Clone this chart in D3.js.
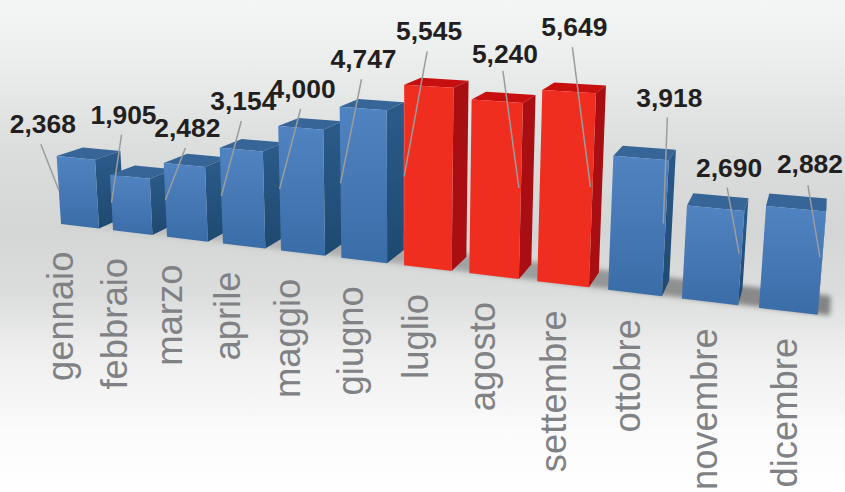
<!DOCTYPE html>
<html>
<head>
<meta charset="utf-8">
<script src="https://cdn.jsdelivr.net/npm/d3@7"></script>
<style>
  html, body { margin: 0; padding: 0; background: #fff; }
  svg { display: block; }
</style>
</head>
<body>
<svg id="chart" width="845" height="492"></svg>
<script>
// Monthly figures
const months = ["gennaio", "febbraio", "marzo", "aprile", "maggio", "giugno",
                "luglio", "agosto", "settembre", "ottobre", "novembre", "dicembre"];
const values = [2368, 1905, 2482, 3154, 4000, 4747, 5545, 5240, 5649, 3918, 2690, 2882];
const summerMonths = ["luglio", "agosto", "settembre"];

// Callout leaders: height fraction of the anchor on the bar, offset of the
// free end from that anchor, and the gap between free end and figure
const leaderLift = [0.5, 0.5, 0.5, 0.5, 0.5, 0.5, 0.5, 0.525, 0.525, 0.54, 0.55, 0.56];
const leaderDx = [-18, 10, 20, 20, 21, 21, 23, -16, -18, 4, -12, -12];
const leaderDy = [-46, -68, -52, -75, -80, -104, -125, -117, -140, -106, -66, -72];
const labelGap = [11, 11, 11, 11, 11, 11, 11, 8, 11, 10, 11, 12];

const width = 845, height = 492;

// Perspective camera described by its origin and three vanishing points
const origin = { x: 61, y: 224 };
const vanishX = { x: -2830, y: -123 };
const vanishY = { x: 400, y: 5500 };
const vanishZ = { x: 845, y: -100 };

// World scales, each returning a homogeneous weight along its axis
const xBand = d3.scaleBand().domain(months).range([0, 11.734]).paddingInner(0.266).paddingOuter(0);
const xWeight = d3.scaleLinear().domain([0, 1]).range([0, -0.01768]);
const yWeight = d3.scaleLinear().domain([0, 6000]).range([0, -0.03224]);
const zWeight = d3.scaleLinear().domain([0, 1]).range([0, 0.034]);

function project(x, value, z) {
  const a = xWeight(x), b = yWeight(value), c = zWeight(z);
  const w = 1 + a + b + c;
  return [
    (origin.x + a * vanishX.x + b * vanishY.x + c * vanishZ.x) / w,
    (origin.y + a * vanishX.y + b * vanishY.y + c * vanishZ.y) / w
  ];
}

const svg = d3.select("#chart");
const defs = svg.append("defs");

function verticalGradient(id, stops) {
  const g = defs.append("linearGradient").attr("id", id)
    .attr("x1", 0).attr("y1", 0).attr("x2", 0).attr("y2", 1);
  stops.forEach(s => g.append("stop").attr("offset", s[0]).attr("stop-color", s[1]));
}

verticalGradient("backdrop", [
  [0, "#f4f6f5"], [0.12, "#eceeed"], [0.3, "#dcdede"], [0.47, "#d4d6d6"],
  [0.6, "#dcdddd"], [0.72, "#eeefee"], [0.88, "#fbfbfb"], [1, "#ffffff"]
]);
verticalGradient("blueFront", [[0, "#5083c1"], [1, "#3a6da8"]]);
verticalGradient("blueSide", [[0, "#2c5b8b"], [1, "#1e4970"]]);
defs.append("filter").attr("id", "soft")
  .attr("x", "-30%").attr("y", "-30%").attr("width", "160%").attr("height", "160%")
  .append("feGaussianBlur").attr("stdDeviation", 2.5);

svg.append("rect").attr("width", width).attr("height", height).attr("fill", "url(#backdrop)");

const polygon = d3.line();
const isSummer = m => summerMonths.includes(m);

// Soft floor shadow behind the bars, deepening toward the near end
const lastIndex = months.length - 1;
svg.append("g").attr("filter", "url(#soft)")
  .selectAll("path").data(months).join("path")
  .attr("fill", "#6e6e6e").attr("fill-opacity", (m, i) => 0.15 + 0.06 * i)
  .attr("d", (m, i) => {
    const x0 = xBand(m);
    const x1 = x0 + xBand.bandwidth() + (i === lastIndex ? 0.15 : 0.266);
    return polygon([project(x0, 0, 0.05), project(x1, 0, 0.05), project(x1, 0, 1.2), project(x0, 0, 1.2)]) + "Z";
  });

// Bars, painted from the far left so nearer ones overlap the side faces
const bars = svg.append("g").selectAll("g").data(months).join("g");

bars.each(function (m, i) {
  const g = d3.select(this);
  const x0 = xBand(m), x1 = x0 + xBand.bandwidth(), v = values[i];
  const hot = isSummer(m);
  g.append("path")
    .attr("fill", hot ? "#c80f10" : "#386597")
    .attr("d", polygon([project(x0, v, 0), project(x1, v, 0), project(x1, v, 1), project(x0, v, 1)]) + "Z");
  g.append("path")
    .attr("fill", hot ? "#a90e12" : "url(#blueSide)")
    .attr("d", polygon([project(x1, v, 0), project(x1, v, 1), project(x1, 0, 1), project(x1, 0, 0)]) + "Z");
  g.append("path")
    .attr("fill", hot ? "#f02e20" : "url(#blueFront)")
    .attr("d", polygon([project(x0, v, 0), project(x1, v, 0), project(x1, 0, 0), project(x0, 0, 0)]) + "Z");
});

// Month names run upward beneath the bars
const labelX = d3.scaleLinear().domain([0, 11]).range([0, 11.33]);
svg.append("g").selectAll("text").data(months).join("text")
  .attr("transform", (m, i) => {
    const p = project(labelX(i), 0, 0);
    const foot = project(xBand(m) + xBand.bandwidth(), 0, 0);
    return `translate(${p[0] + 12},${foot[1] + 23}) rotate(-90)`;
  })
  .attr("text-anchor", "end")
  .attr("font-family", "'Liberation Sans', Arial, sans-serif")
  .attr("font-size", 36.4)
  .attr("fill", "#7f8184")
  .text(m => m);

// Value callouts: a leader from about mid-height of the bar up to the figure
const callouts = months.map((m, i) => {
  const edge = i < 7 ? xBand(m) : xBand(m) + xBand.bandwidth() - 0.03;
  const a = project(edge, values[i] * leaderLift[i], 0);
  return { anchor: a, tip: [a[0] + leaderDx[i], a[1] + leaderDy[i]], value: values[i], gap: labelGap[i] };
});

svg.append("g").selectAll("line").data(callouts).join("line")
  .attr("x1", d => d.anchor[0]).attr("y1", d => d.anchor[1])
  .attr("x2", d => d.tip[0]).attr("y2", d => d.tip[1])
  .attr("stroke", "#9b9c9d").attr("stroke-width", 1.5);

svg.append("g").selectAll("text").data(callouts).join("text")
  .attr("x", d => d.tip[0] + 2).attr("y", d => d.tip[1] - d.gap)
  .attr("text-anchor", "middle")
  .attr("font-family", "'Liberation Sans', Arial, sans-serif")
  .attr("font-weight", "bold")
  .attr("font-size", 26.4)
  .attr("fill", "#231f20")
  .text(d => d3.format(",")(d.value));
</script>
</body>
</html>
